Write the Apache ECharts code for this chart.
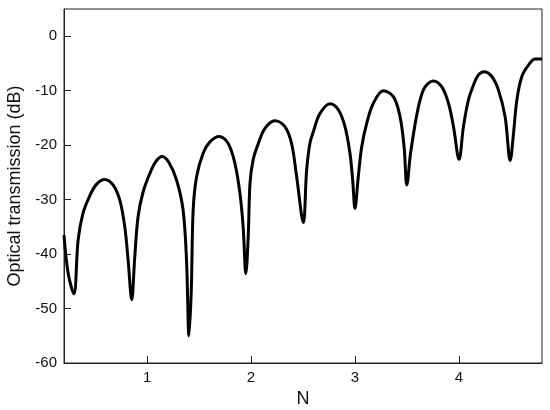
<!DOCTYPE html>
<html>
<head>
<meta charset="utf-8">
<script src="https://cdn.jsdelivr.net/npm/echarts@6/dist/echarts.min.js"></script>
<style>
  html, body { margin: 0; padding: 0; background: #fff; }
  #contain { width: 550px; height: 410px; }
</style>
</head>
<body>
<div id="contain"></div>
<script>
// N values
var nValues = [0.20, 0.24, 0.295, 0.336, 0.383, 0.448, 0.512, 0.592, 0.672, 0.737, 0.785, 0.817, 0.852, 0.881, 0.913, 0.961,
    1.026, 1.085, 1.144, 1.21, 1.283, 1.346, 1.379, 1.403, 1.425, 1.443, 1.476, 1.539, 1.604, 1.693, 1.78, 1.844, 1.893, 1.924, 1.950, 1.973, 1.99,
    2.02, 2.07, 2.134, 2.23, 2.326, 2.39, 2.439, 2.503, 2.535, 2.567, 2.60, 2.663, 2.76, 2.84, 2.904, 2.952, 2.978,
    3.0, 3.032, 3.065, 3.113, 3.177, 3.273, 3.37, 3.434, 3.473, 3.499, 3.535, 3.58, 3.627, 3.675, 3.755, 3.836, 3.90, 3.948,
    4.002, 4.044, 4.092, 4.14, 4.188, 4.243, 4.317, 4.381, 4.445, 4.494, 4.526, 4.558, 4.606, 4.67, 4.735, 4.8];
// transmission in dB
var transValues = [-36.5, -43.5, -47.3, -37.4, -32.5, -29.3, -27.2, -26.3, -27.3, -30.1, -35.0, -41.1, -48.4, -40.5, -33.1, -28.6,
    -25.2, -23.0, -22.1, -23.2, -26.4, -31.9, -41.1, -55.0, -46.6, -31.9, -25.8, -21.5, -19.4, -18.4, -19.7, -23.3, -28.8, -35.0, -43.6, -36.7, -27.0,
    -22.7, -19.7, -16.9, -15.5, -16.6, -19.7, -25.8, -34.2, -24.6, -19.6, -17.5, -14.2, -12.4, -13.5, -16.6, -21.5, -26.4,
    -31.6, -25.8, -20.3, -16.0, -12.3, -10.0, -11.1, -14.8, -20.3, -27.3, -21.5, -16.0, -11.7, -9.3, -8.2, -9.3, -12.3, -16.6,
    -22.6, -16.6, -11.7, -9.0, -7.1, -6.5, -7.4, -9.9, -14.8, -22.8, -17.8, -11.7, -7.4, -5.3, -4.2, -4.2];

var xTicks = [1, 2, 3, 4];
var yTicks = [-60, -50, -40, -30, -20, -10, 0];

var points = [];
for (var i = 0; i < nValues.length; i++) {
    points.push([nValues[i], transValues[i]]);
}

var font = 'Liberation Sans, Arial, sans-serif';
var option = {
    animation: false,
    grid: {
        left: 64,
        right: 8,
        top: 9,
        bottom: 47,
        outerBoundsMode: 'none',
        show: true,
        borderColor: '#222',
        borderWidth: 1
    },
    xAxis: {
        type: 'value',
        min: 0.2,
        max: 4.8,
        name: 'N',
        nameLocation: 'middle',
        nameGap: 21,
        nameTextStyle: { fontFamily: font, fontSize: 18, color: '#111' },
        axisLine: { onZero: false, lineStyle: { color: '#222', width: 1 } },
        axisTick: { inside: true, length: 7, customValues: xTicks, lineStyle: { color: '#222' } },
        axisLabel: { customValues: xTicks, margin: 7, fontFamily: font, fontSize: 15, color: '#111' },
        splitLine: { show: false }
    },
    yAxis: {
        type: 'value',
        min: -60,
        max: 5,
        name: 'Optical transmission (dB)',
        nameLocation: 'middle',
        nameGap: 40,
        nameTextStyle: { fontFamily: font, fontSize: 18, color: '#111' },
        axisLine: { onZero: false, lineStyle: { color: '#222', width: 1 } },
        axisTick: { inside: true, length: 7, customValues: yTicks, lineStyle: { color: '#222' } },
        axisLabel: { customValues: yTicks, margin: 7, fontFamily: font, fontSize: 15, color: '#111' },
        splitLine: { show: false }
    },
    series: [{
        type: 'line',
        data: points,
        showSymbol: false,
        smooth: 0.35,
        lineStyle: { color: '#000', width: 3 }
    }]
};

var myChart = echarts.init(document.getElementById('contain'));
myChart.setOption(option);
</script>
</body>
</html>
